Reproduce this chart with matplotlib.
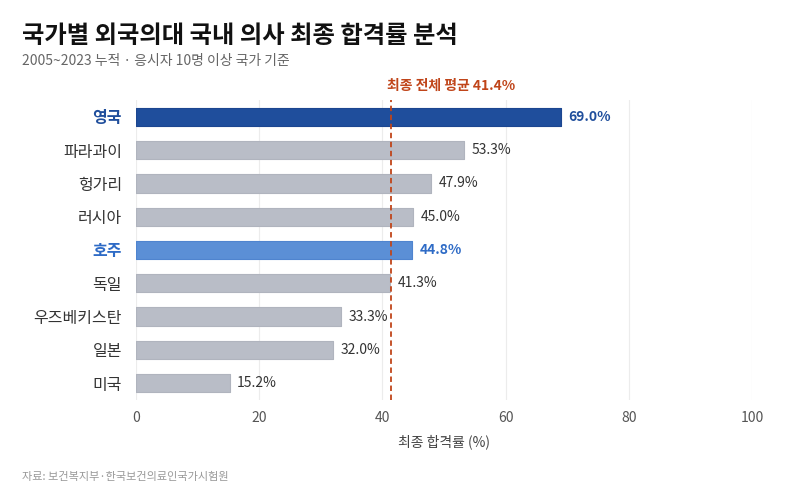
import matplotlib.pyplot as plt

plt.rcParams['font.family'] = ['Noto Sans CJK KR', 'DejaVu Sans']

## DATA
countries = ['영국', '파라과이', '헝가리', '러시아', '호주', '독일', '우즈베키스탄', '일본', '미국']
pass_rates = [69.0, 53.3, 47.9, 45.0, 44.8, 41.3, 33.3, 32.0, 15.2]
avg_rate = 41.4
x_ticks = [0, 20, 40, 60, 80, 100]

## COLOURS
bar_hl = {'영국': '#1f4e9c', '호주': '#5b8fd6'}
text_hl = {'영국': '#1f4e9c', '호주': '#2e6bc6'}
edge_hl = {'영국': '#1c4690', '호주': '#4f84cf'}
gray = '#b9bdc7'

fig = plt.figure(figsize=(8, 4.96), dpi=100)
ax = fig.add_axes([0.17, 0.194, 0.77, 0.604])

ypos = list(range(len(countries)))
colors = [bar_hl.get(c, gray) for c in countries]
edges = [edge_hl.get(c, '#b0b4be') for c in countries]
ax.barh(ypos, pass_rates, height=0.55, color=colors, edgecolor=edges,
        linewidth=0.8, joinstyle='round', zorder=3)

for y, c, v in zip(ypos, countries, pass_rates):
    if c in text_hl:
        ax.text(v + 1.2, y, f'{v:.1f}%', va='center', ha='left', fontsize=10,
                fontweight='bold', color=text_hl[c])
    else:
        ax.text(v + 1.2, y, f'{v:.1f}%', va='center', ha='left', fontsize=10, color='#333333')

ax.axvline(avg_rate, color='#c0451a', linestyle=(0, (3, 2)), linewidth=1.3, zorder=4)
ax.text(avg_rate - 0.7, -0.72, f'최종 전체 평균 {avg_rate}%', ha='left', va='bottom',
        fontsize=10, fontweight='bold', color='#c0451a')

ax.set_xlim(0, 100)
ax.set_ylim(len(countries) - 0.5, -0.5)
ax.set_xticks(x_ticks)
ax.set_xticklabels([str(t) for t in x_ticks], fontsize=10, color='#555555')
ax.set_yticks(ypos)
ax.set_yticklabels(countries, fontsize=11.5)
for lbl, c in zip(ax.get_yticklabels(), countries):
    if c in text_hl:
        lbl.set_color(text_hl[c])
        lbl.set_fontweight('bold')
    else:
        lbl.set_color('#333333')

ax.tick_params(axis='x', length=0, pad=8)
ax.tick_params(axis='y', length=0, pad=10)
ax.grid(axis='x', color='#ececec', linewidth=0.8, zorder=0)
for s in ax.spines.values():
    s.set_visible(False)

ax.set_xlabel('최종 합격률 (%)', fontsize=10, color='#444444', labelpad=7)

fig.text(0.0275, 0.928, '국가별 외국의대 국내 의사 최종 합격률 분석', fontsize=17.5,
         fontweight='bold', color='#111111', va='center')
fig.text(0.0275, 0.878, '2005~2023 누적 · 응시자 10명 이상 국가 기준', fontsize=10,
         color='#666666', va='center')
fig.text(0.0275, 0.038, '자료: 보건복지부·한국보건의료인국가시험원', fontsize=8,
         color='#999999', va='center')

plt.savefig('out.png', dpi=100)
